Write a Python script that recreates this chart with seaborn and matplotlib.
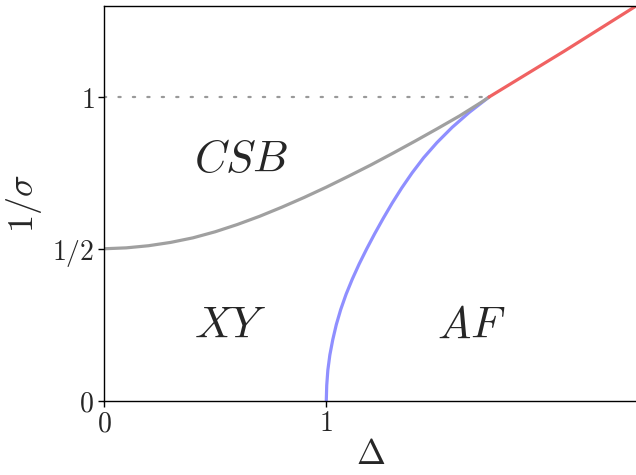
import pandas as pd
import matplotlib
matplotlib.use("Agg")
import matplotlib.pyplot as plt
import seaborn as sns

# phase boundaries (Delta, 1/sigma)
csb_delta = [0.0, 0.1, 0.2, 0.3, 0.4, 0.5, 0.6, 0.7, 0.8, 0.9, 1.0,
             1.1, 1.2, 1.3, 1.4, 1.5, 1.6, 1.7, 1.732]
csb_inv_sigma = [0.500, 0.503, 0.510, 0.521, 0.536, 0.556, 0.580, 0.607, 0.637, 0.669, 0.703,
                 0.739, 0.776, 0.815, 0.855, 0.896, 0.938, 0.984, 1.000]

af_delta = [1.000, 1.002, 1.007, 1.016, 1.029, 1.045, 1.065, 1.089, 1.117, 1.148, 1.182,
            1.218, 1.256, 1.296, 1.339, 1.386, 1.438, 1.498, 1.566, 1.644, 1.732]
af_inv_sigma = [0.00, 0.05, 0.10, 0.15, 0.20, 0.25, 0.30, 0.35, 0.40, 0.45, 0.50,
                0.55, 0.60, 0.65, 0.70, 0.75, 0.80, 0.85, 0.90, 0.95, 1.00]

red_delta = [1.732, 2.070, 2.400]
red_inv_sigma = [1.000, 1.151, 1.303]

dotted_delta = [0.0, 1.732]
dotted_inv_sigma = [1.0, 1.0]

region_names = ["$CSB$", "$XY$", "$AF$"]
region_delta = [0.616, 0.567, 1.651]
region_inv_sigma = [0.793, 0.249, 0.249]

x_ticks = [0, 1]
x_tick_labels = ["$0$", "$1$"]
y_ticks = [0, 0.5, 1]
y_tick_labels = ["$0$", "$1/2$", "$1$"]

sns.set_theme(style="white")
plt.rcParams["mathtext.fontset"] = "cm"
plt.rcParams["font.family"] = ["DejaVu Serif"]

fig = plt.figure(figsize=(6.36, 4.75), dpi=100)
ax = fig.add_axes([104 / 636, (475 - 400.5) / 475, (637.5 - 104) / 636, (400.5 - 6) / 475])

csb = pd.DataFrame({"d": csb_delta, "s": csb_inv_sigma})
af = pd.DataFrame({"d": af_delta, "s": af_inv_sigma})
red = pd.DataFrame({"d": red_delta, "s": red_inv_sigma})

ax.plot(dotted_delta, dotted_inv_sigma, color="#999999", lw=1.6,
        linestyle=(0, (1, 5.5)), dash_capstyle="round")
sns.lineplot(data=af, x="d", y="s", sort=False, color="#8f8fff", lw=2.3, ax=ax)
sns.lineplot(data=csb, x="d", y="s", sort=False, color="#a0a0a0", lw=2.3, ax=ax)
sns.lineplot(data=red, x="d", y="s", sort=False, color="#f06262", lw=2.3, ax=ax)

for name, dx, dy in zip(region_names, region_delta, region_inv_sigma):
    ax.text(dx, dy, name, fontsize=32, ha="center", va="center")

ax.set_xlim(0, 2.4)
ax.set_ylim(0, 1.3)
ax.set_xticks(x_ticks)
ax.set_xticklabels(x_tick_labels)
ax.set_yticks(y_ticks)
ax.set_yticklabels(y_tick_labels)
ax.tick_params(axis="both", labelsize=20, length=4, width=1, color="black",
               direction="out", bottom=True, left=True, pad=3)
ax.set_xlabel(r"$\Delta$", fontsize=25, labelpad=0)
ax.set_ylabel(r"$1/\sigma$", fontsize=26, labelpad=6)

for side in ["left", "bottom", "top", "right"]:
    ax.spines[side].set_color("black")
    ax.spines[side].set_linewidth(1.0)

fig.savefig("out.png", dpi=100)
plt.close(fig)
